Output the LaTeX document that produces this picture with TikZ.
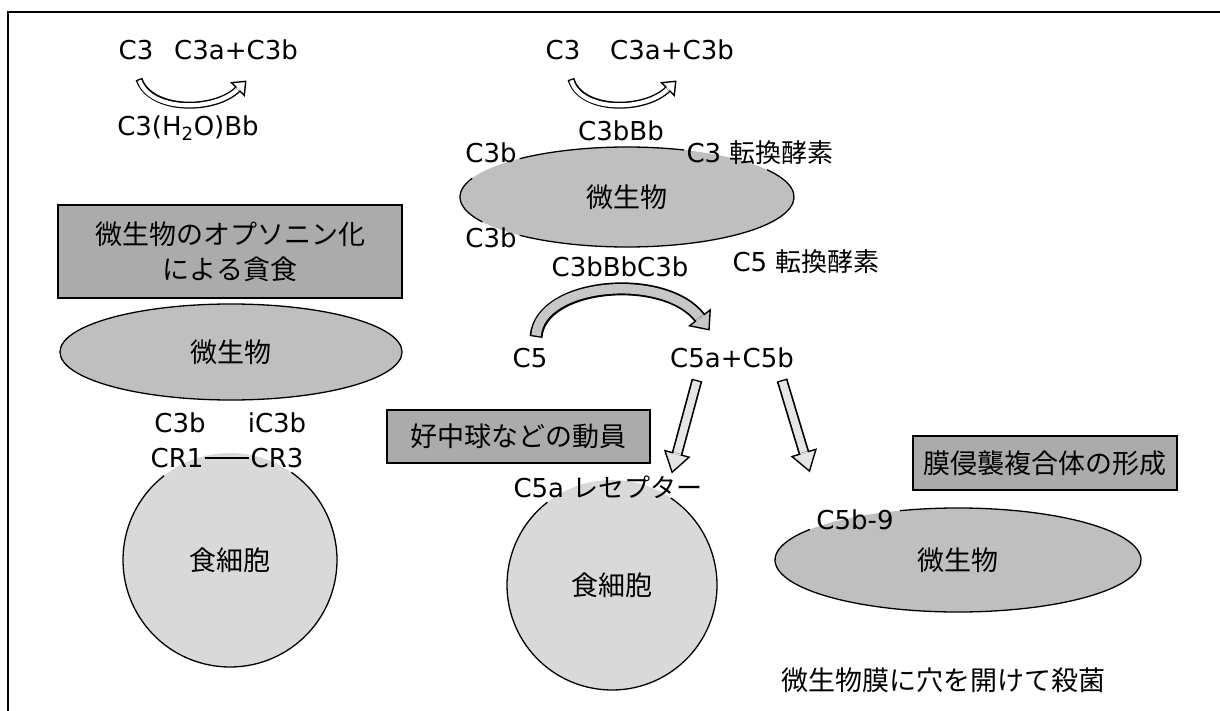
\documentclass[tikz,border=0pt]{standalone}
\usepackage{fontspec}
\setmainfont{DejaVu Sans}
\newfontfamily\jp{Noto Sans CJK JP}
\usetikzlibrary{shapes.geometric,decorations.markings}
\tikzset{
  lat/.style={font=\fontsize{26}{30}\selectfont, inner sep=1pt},
  jpt/.style={font=\jp\fontsize{27}{33}\selectfont, inner sep=1pt},
  titlebox/.style={draw=black, line width=1.3pt, fill=black!33,
    font=\jp\fontsize{27}{35}\selectfont, inner sep=0pt, align=center},
  microbe/.style={ellipse, fill=black!25,
    font=\jp\fontsize{27}{33}\selectfont, inner sep=0pt},
  cell/.style={circle, fill=black!15, inner sep=0pt,
    font=\jp\fontsize{27}{33}\selectfont},
  outline/.style={draw=black, line width=1.3pt},
  arrowin/.style args={#1/#2/#3/#4}{line width=#1, draw=#2, shorten <=1.4pt,
    postaction={decorate, decoration={markings, mark=at position 0.999 with {
      \filldraw[fill=#2, draw=black, line width=1.4pt, line join=miter]
        (0,-#3) -- (#4,0) -- (0,#3) -- cycle;
      \draw[#2, line width=#1] (-2pt,0) -- (0.8pt,0);}}}},
}
\newcommand{\blockarrow}[3]{\draw[line width=#1] #3; \draw[#2] #3;}
\begin{document}
\begin{tikzpicture}[x=1pt,y=-1pt]
\useasboundingbox (0,0) rectangle (1220,711);
% frame
\draw[line width=1.3pt] (1220,12) -- (8,12) -- (8,711);

% ---- top left reaction
\node[lat] (tlc3) at (136,50) {C3};
\node[lat] (tlc3ab) at (236,50) {C3a+C3b};
\node[lat] (tlh2o) at (188,128) {C3(H\textsubscript{2}O)Bb};
\coordinate (a1s) at (139,79);
\coordinate (a1e) at (238,89);
\blockarrow{7pt}{arrowin={4.2pt/white/9pt/11pt}}{(a1s) .. controls (150,112) and (215,112) .. (a1e)}

% ---- top middle reaction
\node[lat] (mc3) at (563,50) {C3};
\node[lat] (mc3ab) at (672,50) {C3a+C3b};
\coordinate (a2s) at (571,79);
\coordinate (a2e) at (668,89);
\blockarrow{7pt}{arrowin={4.2pt/white/9pt/11pt}}{(a2s) .. controls (580,112) and (645,112) .. (a2e)}

\node[lat] (c3bbb) at (621,131) {C3bBb};
\node[microbe, minimum width=334pt, minimum height=100pt] (mic1) at (627,197) {微生物};
\draw[outline] ([shift={(70:167pt and 50pt)}]mic1.center) arc[start angle=70, end angle=130, x radius=167pt, y radius=50pt];
\draw[outline] ([shift={(33:167pt and 50pt)}]mic1.center) arc[start angle=33, end angle=-130, x radius=167pt, y radius=50pt];
\draw[outline] ([shift={(158:167pt and 50pt)}]mic1.center) arc[start angle=158, end angle=210, x radius=167pt, y radius=50pt];
\node[lat] (mc3b1) at (491,153) {C3b};
\node[lat] (c3conv) at (760,153) {C3 {\jp 転換酵素}};
\node[lat] (mc3b2) at (491,238) {C3b};
\node[lat] (c3bbbc3b) at (620,267) {C3bBbC3b};
\node[lat] (c5conv) at (806,262) {C5 {\jp 転換酵素}};

% ---- C5 cleavage
\node[lat] (c5) at (530,358) {C5};
\node[lat] (c5ab) at (732,358) {C5a+C5b};
\coordinate (a3s) at (536,337);
\coordinate (a3e) at (700,318);
\blockarrow{13pt}{arrowin={9.4pt/black!22/13pt/15pt}}{(a3s) .. controls (540,282) and (665,272) .. (a3e)}

\coordinate (s1s) at (697,380);
\coordinate (s1e) at (677,454);
\blockarrow{11pt}{arrowin={7.6pt/black!10/12.5pt/19pt}}{(s1s) -- (s1e)}
\coordinate (s2s) at (782,380);
\coordinate (s2e) at (804,453);
\blockarrow{11pt}{arrowin={7.6pt/black!10/12.5pt/19pt}}{(s2s) -- (s2e)}

% ---- left: opsonization
\node[titlebox, minimum width=344pt, minimum height=93pt] (lbox) at (230,251.5)
  {微生物のオプソニン化\\による貪食};
\node[microbe, draw=black, line width=1.3pt, minimum width=342pt, minimum height=96pt] (mic2) at (231,352) {微生物};
\node[cell, minimum size=214pt] (cell1) at (230,560) {食細胞};
\draw[outline] ([shift={(128:107pt)}]cell1.center) arc[start angle=128, end angle=415, radius=107pt];
\node[lat] (lc3b) at (180,423) {C3b};
\node[lat] (lic3b) at (277,423) {iC3b};
\node[lat] (cr1) at (177,458) {CR1};
\node[lat] (cr3) at (277,458) {CR3};
\draw[outline] (cr1.east) -- (cr3.west);

% ---- middle: recruitment
\node[titlebox, minimum width=263pt, minimum height=53pt] (boxn) at (518.5,436.5) {好中球などの動員};
\node[cell, minimum size=210pt] (cell2) at (612,585) {食細胞};
\draw[outline] ([shift={(128:105pt)}]cell2.center) arc[start angle=128, end angle=416, radius=105pt];
\node[lat] (c5arec) at (608,487) {C5a {\jp レセプター}};

% ---- right: MAC
\node[titlebox, minimum width=264pt, minimum height=54pt] (boxm) at (1045,463) {膜侵襲複合体の形成};
\node[microbe, minimum width=366pt, minimum height=104pt] (mic3) at (958,560) {微生物};
\draw[outline] ([shift={(108.5:183pt and 52pt)}]mic3.center) arc[start angle=108.5, end angle=-216, x radius=183pt, y radius=52pt];
\node[lat] (c5b9) at (855,520) {C5b-9};
\node[jpt] (kill) at (943,680) {微生物膜に穴を開けて殺菌};
\end{tikzpicture}
\end{document}
